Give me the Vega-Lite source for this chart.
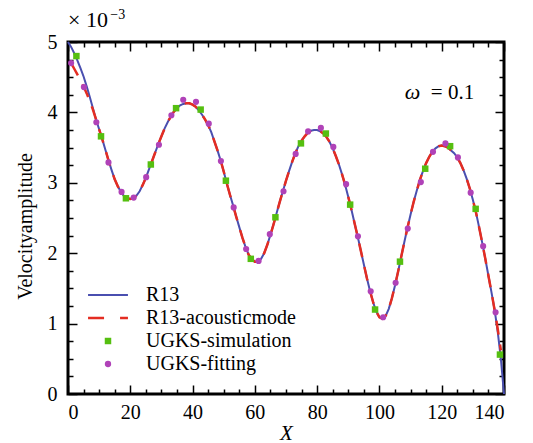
{
  "$schema": "https://vega.github.io/schema/vega-lite/v6.json",
  "width": 436,
  "height": 352,
  "autosize": {"type": "none"},
  "padding": {"left": 68, "top": 42, "right": 29, "bottom": 49},
  "background": "white",
  "config": {
    "view": {"stroke": "black", "strokeWidth": 3},
    "font": "Liberation Serif, Times New Roman, serif",
    "axis": {"grid": false, "domain": false, "tickColor": "black", "tickWidth": 1.5, "labelColor": "black", "labelFont": "Liberation Serif, Times New Roman, serif", "labelFontSize": 20, "titleFont": "Liberation Serif, Times New Roman, serif", "titleColor": "black", "titleFontWeight": "normal"},
    "legend": {"symbolSize": 49, "padding": 0}
  },
  "data": {"values": [
    {"series":"R13","x":0,"y":5.00},{"series":"R13","x":1,"y":4.93},{"series":"R13","x":2,"y":4.84},{"series":"R13","x":3,"y":4.74},{"series":"R13","x":4,"y":4.63},{"series":"R13","x":5,"y":4.51},{"series":"R13","x":6,"y":4.37},{"series":"R13","x":7,"y":4.22},{"series":"R13","x":8,"y":4.06},{"series":"R13","x":9,"y":3.90},
    {"series":"R13","x":10,"y":3.76},{"series":"R13","x":11,"y":3.62},{"series":"R13","x":12,"y":3.47},{"series":"R13","x":13,"y":3.32},{"series":"R13","x":14,"y":3.18},{"series":"R13","x":15,"y":3.05},{"series":"R13","x":16,"y":2.95},{"series":"R13","x":17,"y":2.87},{"series":"R13","x":18,"y":2.81},{"series":"R13","x":19,"y":2.78},
    {"series":"R13","x":20,"y":2.77},{"series":"R13","x":21,"y":2.78},{"series":"R13","x":22,"y":2.82},{"series":"R13","x":23,"y":2.88},{"series":"R13","x":24,"y":2.97},{"series":"R13","x":25,"y":3.07},{"series":"R13","x":26,"y":3.19},{"series":"R13","x":27,"y":3.31},{"series":"R13","x":28,"y":3.43},{"series":"R13","x":29,"y":3.55},
    {"series":"R13","x":30,"y":3.66},{"series":"R13","x":31,"y":3.77},{"series":"R13","x":32,"y":3.86},{"series":"R13","x":33,"y":3.94},{"series":"R13","x":34,"y":4.01},{"series":"R13","x":35,"y":4.06},{"series":"R13","x":36,"y":4.10},{"series":"R13","x":37,"y":4.12},{"series":"R13","x":38,"y":4.13},{"series":"R13","x":39,"y":4.13},
    {"series":"R13","x":40,"y":4.11},{"series":"R13","x":41,"y":4.08},{"series":"R13","x":42,"y":4.03},{"series":"R13","x":43,"y":3.97},{"series":"R13","x":44,"y":3.90},{"series":"R13","x":45,"y":3.82},{"series":"R13","x":46,"y":3.72},{"series":"R13","x":47,"y":3.59},{"series":"R13","x":48,"y":3.46},{"series":"R13","x":49,"y":3.32},
    {"series":"R13","x":50,"y":3.16},{"series":"R13","x":51,"y":2.99},{"series":"R13","x":52,"y":2.83},{"series":"R13","x":53,"y":2.68},{"series":"R13","x":54,"y":2.52},{"series":"R13","x":55,"y":2.37},{"series":"R13","x":56,"y":2.22},{"series":"R13","x":57,"y":2.09},{"series":"R13","x":58,"y":1.98},{"series":"R13","x":59,"y":1.91},
    {"series":"R13","x":60,"y":1.88},{"series":"R13","x":61,"y":1.88},{"series":"R13","x":62,"y":1.92},{"series":"R13","x":63,"y":2.00},{"series":"R13","x":64,"y":2.12},{"series":"R13","x":65,"y":2.26},{"series":"R13","x":66,"y":2.41},{"series":"R13","x":67,"y":2.57},{"series":"R13","x":68,"y":2.73},{"series":"R13","x":69,"y":2.88},
    {"series":"R13","x":70,"y":3.03},{"series":"R13","x":71,"y":3.17},{"series":"R13","x":72,"y":3.30},{"series":"R13","x":73,"y":3.42},{"series":"R13","x":74,"y":3.52},{"series":"R13","x":75,"y":3.60},{"series":"R13","x":76,"y":3.66},{"series":"R13","x":77,"y":3.71},{"series":"R13","x":78,"y":3.74},{"series":"R13","x":79,"y":3.75},
    {"series":"R13","x":80,"y":3.75},{"series":"R13","x":81,"y":3.73},{"series":"R13","x":82,"y":3.70},{"series":"R13","x":83,"y":3.65},{"series":"R13","x":84,"y":3.58},{"series":"R13","x":85,"y":3.49},{"series":"R13","x":86,"y":3.38},{"series":"R13","x":87,"y":3.26},{"series":"R13","x":88,"y":3.12},{"series":"R13","x":89,"y":2.97},
    {"series":"R13","x":90,"y":2.80},{"series":"R13","x":91,"y":2.62},{"series":"R13","x":92,"y":2.43},{"series":"R13","x":93,"y":2.24},{"series":"R13","x":94,"y":2.04},{"series":"R13","x":95,"y":1.84},{"series":"R13","x":96,"y":1.64},{"series":"R13","x":97,"y":1.46},{"series":"R13","x":98,"y":1.30},{"series":"R13","x":99,"y":1.17},
    {"series":"R13","x":100,"y":1.09},{"series":"R13","x":101,"y":1.07},{"series":"R13","x":102,"y":1.11},{"series":"R13","x":103,"y":1.21},{"series":"R13","x":104,"y":1.36},{"series":"R13","x":105,"y":1.54},{"series":"R13","x":106,"y":1.74},{"series":"R13","x":107,"y":1.95},{"series":"R13","x":108,"y":2.16},{"series":"R13","x":109,"y":2.36},
    {"series":"R13","x":110,"y":2.55},{"series":"R13","x":111,"y":2.73},{"series":"R13","x":112,"y":2.89},{"series":"R13","x":113,"y":3.04},{"series":"R13","x":114,"y":3.17},{"series":"R13","x":115,"y":3.28},{"series":"R13","x":116,"y":3.37},{"series":"R13","x":117,"y":3.44},{"series":"R13","x":118,"y":3.49},{"series":"R13","x":119,"y":3.52},
    {"series":"R13","x":120,"y":3.53},{"series":"R13","x":121,"y":3.52},{"series":"R13","x":122,"y":3.50},{"series":"R13","x":123,"y":3.46},{"series":"R13","x":124,"y":3.42},{"series":"R13","x":125,"y":3.36},{"series":"R13","x":126,"y":3.28},{"series":"R13","x":127,"y":3.18},{"series":"R13","x":128,"y":3.06},{"series":"R13","x":129,"y":2.92},
    {"series":"R13","x":130,"y":2.76},{"series":"R13","x":131,"y":2.58},{"series":"R13","x":132,"y":2.37},{"series":"R13","x":133,"y":2.15},{"series":"R13","x":134,"y":1.92},{"series":"R13","x":135,"y":1.68},{"series":"R13","x":136,"y":1.44},{"series":"R13","x":137,"y":1.19},{"series":"R13","x":138,"y":0.88},{"series":"R13","x":139,"y":0.50},{"series":"R13","x":140,"y":0.00},

    {"series":"R13-acousticmode","x":1,"y":4.70},{"series":"R13-acousticmode","x":2,"y":4.62},{"series":"R13-acousticmode","x":3,"y":4.54},{"series":"R13-acousticmode","x":4,"y":4.46},{"series":"R13-acousticmode","x":5,"y":4.37},{"series":"R13-acousticmode","x":6,"y":4.27},{"series":"R13-acousticmode","x":7,"y":4.16},{"series":"R13-acousticmode","x":8,"y":4.04},{"series":"R13-acousticmode","x":9,"y":3.90},
    {"series":"R13-acousticmode","x":10,"y":3.76},{"series":"R13-acousticmode","x":11,"y":3.62},{"series":"R13-acousticmode","x":12,"y":3.47},{"series":"R13-acousticmode","x":13,"y":3.32},{"series":"R13-acousticmode","x":14,"y":3.18},{"series":"R13-acousticmode","x":15,"y":3.05},{"series":"R13-acousticmode","x":16,"y":2.95},{"series":"R13-acousticmode","x":17,"y":2.87},{"series":"R13-acousticmode","x":18,"y":2.81},{"series":"R13-acousticmode","x":19,"y":2.78},
    {"series":"R13-acousticmode","x":20,"y":2.77},{"series":"R13-acousticmode","x":21,"y":2.78},{"series":"R13-acousticmode","x":22,"y":2.82},{"series":"R13-acousticmode","x":23,"y":2.88},{"series":"R13-acousticmode","x":24,"y":2.97},{"series":"R13-acousticmode","x":25,"y":3.07},{"series":"R13-acousticmode","x":26,"y":3.19},{"series":"R13-acousticmode","x":27,"y":3.31},{"series":"R13-acousticmode","x":28,"y":3.43},{"series":"R13-acousticmode","x":29,"y":3.55},
    {"series":"R13-acousticmode","x":30,"y":3.66},{"series":"R13-acousticmode","x":31,"y":3.77},{"series":"R13-acousticmode","x":32,"y":3.86},{"series":"R13-acousticmode","x":33,"y":3.94},{"series":"R13-acousticmode","x":34,"y":4.01},{"series":"R13-acousticmode","x":35,"y":4.06},{"series":"R13-acousticmode","x":36,"y":4.10},{"series":"R13-acousticmode","x":37,"y":4.12},{"series":"R13-acousticmode","x":38,"y":4.13},{"series":"R13-acousticmode","x":39,"y":4.13},
    {"series":"R13-acousticmode","x":40,"y":4.11},{"series":"R13-acousticmode","x":41,"y":4.08},{"series":"R13-acousticmode","x":42,"y":4.03},{"series":"R13-acousticmode","x":43,"y":3.97},{"series":"R13-acousticmode","x":44,"y":3.90},{"series":"R13-acousticmode","x":45,"y":3.82},{"series":"R13-acousticmode","x":46,"y":3.72},{"series":"R13-acousticmode","x":47,"y":3.59},{"series":"R13-acousticmode","x":48,"y":3.46},{"series":"R13-acousticmode","x":49,"y":3.32},
    {"series":"R13-acousticmode","x":50,"y":3.16},{"series":"R13-acousticmode","x":51,"y":2.99},{"series":"R13-acousticmode","x":52,"y":2.83},{"series":"R13-acousticmode","x":53,"y":2.68},{"series":"R13-acousticmode","x":54,"y":2.52},{"series":"R13-acousticmode","x":55,"y":2.37},{"series":"R13-acousticmode","x":56,"y":2.22},{"series":"R13-acousticmode","x":57,"y":2.09},{"series":"R13-acousticmode","x":58,"y":1.98},{"series":"R13-acousticmode","x":59,"y":1.91},
    {"series":"R13-acousticmode","x":60,"y":1.88},{"series":"R13-acousticmode","x":61,"y":1.88},{"series":"R13-acousticmode","x":62,"y":1.92},{"series":"R13-acousticmode","x":63,"y":2.00},{"series":"R13-acousticmode","x":64,"y":2.12},{"series":"R13-acousticmode","x":65,"y":2.26},{"series":"R13-acousticmode","x":66,"y":2.41},{"series":"R13-acousticmode","x":67,"y":2.57},{"series":"R13-acousticmode","x":68,"y":2.73},{"series":"R13-acousticmode","x":69,"y":2.88},
    {"series":"R13-acousticmode","x":70,"y":3.03},{"series":"R13-acousticmode","x":71,"y":3.17},{"series":"R13-acousticmode","x":72,"y":3.30},{"series":"R13-acousticmode","x":73,"y":3.42},{"series":"R13-acousticmode","x":74,"y":3.52},{"series":"R13-acousticmode","x":75,"y":3.60},{"series":"R13-acousticmode","x":76,"y":3.66},{"series":"R13-acousticmode","x":77,"y":3.71},{"series":"R13-acousticmode","x":78,"y":3.74},{"series":"R13-acousticmode","x":79,"y":3.75},
    {"series":"R13-acousticmode","x":80,"y":3.75},{"series":"R13-acousticmode","x":81,"y":3.73},{"series":"R13-acousticmode","x":82,"y":3.70},{"series":"R13-acousticmode","x":83,"y":3.65},{"series":"R13-acousticmode","x":84,"y":3.58},{"series":"R13-acousticmode","x":85,"y":3.49},{"series":"R13-acousticmode","x":86,"y":3.38},{"series":"R13-acousticmode","x":87,"y":3.26},{"series":"R13-acousticmode","x":88,"y":3.12},{"series":"R13-acousticmode","x":89,"y":2.97},
    {"series":"R13-acousticmode","x":90,"y":2.80},{"series":"R13-acousticmode","x":91,"y":2.62},{"series":"R13-acousticmode","x":92,"y":2.43},{"series":"R13-acousticmode","x":93,"y":2.24},{"series":"R13-acousticmode","x":94,"y":2.04},{"series":"R13-acousticmode","x":95,"y":1.84},{"series":"R13-acousticmode","x":96,"y":1.64},{"series":"R13-acousticmode","x":97,"y":1.46},{"series":"R13-acousticmode","x":98,"y":1.30},{"series":"R13-acousticmode","x":99,"y":1.17},
    {"series":"R13-acousticmode","x":100,"y":1.09},{"series":"R13-acousticmode","x":101,"y":1.07},{"series":"R13-acousticmode","x":102,"y":1.11},{"series":"R13-acousticmode","x":103,"y":1.21},{"series":"R13-acousticmode","x":104,"y":1.36},{"series":"R13-acousticmode","x":105,"y":1.54},{"series":"R13-acousticmode","x":106,"y":1.74},{"series":"R13-acousticmode","x":107,"y":1.95},{"series":"R13-acousticmode","x":108,"y":2.16},{"series":"R13-acousticmode","x":109,"y":2.36},
    {"series":"R13-acousticmode","x":110,"y":2.55},{"series":"R13-acousticmode","x":111,"y":2.73},{"series":"R13-acousticmode","x":112,"y":2.89},{"series":"R13-acousticmode","x":113,"y":3.04},{"series":"R13-acousticmode","x":114,"y":3.17},{"series":"R13-acousticmode","x":115,"y":3.28},{"series":"R13-acousticmode","x":116,"y":3.37},{"series":"R13-acousticmode","x":117,"y":3.44},{"series":"R13-acousticmode","x":118,"y":3.49},{"series":"R13-acousticmode","x":119,"y":3.52},
    {"series":"R13-acousticmode","x":120,"y":3.53},{"series":"R13-acousticmode","x":121,"y":3.52},{"series":"R13-acousticmode","x":122,"y":3.50},{"series":"R13-acousticmode","x":123,"y":3.46},{"series":"R13-acousticmode","x":124,"y":3.42},{"series":"R13-acousticmode","x":125,"y":3.36},{"series":"R13-acousticmode","x":126,"y":3.28},{"series":"R13-acousticmode","x":127,"y":3.18},{"series":"R13-acousticmode","x":128,"y":3.06},{"series":"R13-acousticmode","x":129,"y":2.92},
    {"series":"R13-acousticmode","x":130,"y":2.76},{"series":"R13-acousticmode","x":131,"y":2.58},{"series":"R13-acousticmode","x":132,"y":2.37},{"series":"R13-acousticmode","x":133,"y":2.15},{"series":"R13-acousticmode","x":134,"y":1.92},{"series":"R13-acousticmode","x":135,"y":1.68},{"series":"R13-acousticmode","x":136,"y":1.44},{"series":"R13-acousticmode","x":137,"y":1.19},{"series":"R13-acousticmode","x":138,"y":0.92},{"series":"R13-acousticmode","x":139,"y":0.62},

    {"series":"UGKS-simulation","x":2.7,"y":4.80},{"series":"UGKS-simulation","x":10.6,"y":3.66},{"series":"UGKS-simulation","x":18.6,"y":2.78},{"series":"UGKS-simulation","x":26.6,"y":3.26},{"series":"UGKS-simulation","x":34.7,"y":4.06},{"series":"UGKS-simulation","x":42.6,"y":4.04},{"series":"UGKS-simulation","x":50.7,"y":3.03},{"series":"UGKS-simulation","x":58.7,"y":1.92},{"series":"UGKS-simulation","x":66.6,"y":2.51},
    {"series":"UGKS-simulation","x":74.8,"y":3.56},{"series":"UGKS-simulation","x":82.8,"y":3.70},{"series":"UGKS-simulation","x":90.6,"y":2.69},{"series":"UGKS-simulation","x":98.6,"y":1.20},{"series":"UGKS-simulation","x":106.6,"y":1.88},{"series":"UGKS-simulation","x":114.7,"y":3.20},{"series":"UGKS-simulation","x":122.7,"y":3.52},{"series":"UGKS-simulation","x":130.9,"y":2.63},{"series":"UGKS-simulation","x":138.7,"y":0.56},

    {"series":"UGKS-fitting","x":1.0,"y":4.70},{"series":"UGKS-fitting","x":5.1,"y":4.36},{"series":"UGKS-fitting","x":9.1,"y":3.86},{"series":"UGKS-fitting","x":13.0,"y":3.29},{"series":"UGKS-fitting","x":17.2,"y":2.87},{"series":"UGKS-fitting","x":21.1,"y":2.79},{"series":"UGKS-fitting","x":25.1,"y":3.08},{"series":"UGKS-fitting","x":29.2,"y":3.54},{"series":"UGKS-fitting","x":33.2,"y":3.96},{"series":"UGKS-fitting","x":37.0,"y":4.18},
    {"series":"UGKS-fitting","x":41.1,"y":4.15},{"series":"UGKS-fitting","x":45.2,"y":3.84},{"series":"UGKS-fitting","x":49.1,"y":3.31},{"series":"UGKS-fitting","x":53.2,"y":2.65},{"series":"UGKS-fitting","x":57.2,"y":2.06},{"series":"UGKS-fitting","x":61.2,"y":1.89},{"series":"UGKS-fitting","x":64.8,"y":2.27},{"series":"UGKS-fitting","x":69.2,"y":2.88},{"series":"UGKS-fitting","x":73.1,"y":3.41},{"series":"UGKS-fitting","x":77.1,"y":3.73},
    {"series":"UGKS-fitting","x":81.2,"y":3.78},{"series":"UGKS-fitting","x":85.2,"y":3.51},{"series":"UGKS-fitting","x":89.3,"y":2.98},{"series":"UGKS-fitting","x":93.1,"y":2.24},{"series":"UGKS-fitting","x":97.2,"y":1.46},{"series":"UGKS-fitting","x":101.2,"y":1.09},{"series":"UGKS-fitting","x":105.2,"y":1.58},{"series":"UGKS-fitting","x":109.1,"y":2.35},{"series":"UGKS-fitting","x":113.3,"y":3.01},{"series":"UGKS-fitting","x":117.2,"y":3.44},
    {"series":"UGKS-fitting","x":121.2,"y":3.56},{"series":"UGKS-fitting","x":125.2,"y":3.36},{"series":"UGKS-fitting","x":129.3,"y":2.86},{"series":"UGKS-fitting","x":133.3,"y":2.10},{"series":"UGKS-fitting","x":137.3,"y":1.16}
  ]},
  "resolve": {"axis": {"x": "independent", "y": "independent"}},
  "layer": [
    {
      "transform": [{"filter": "datum.series === 'R13'"}],
      "mark": {"type": "line", "strokeWidth": 2},
      "encoding": {
        "x": {"field": "x", "type": "quantitative", "scale": {"domain": [0, 140], "nice": false, "zero": false},
          "axis": {"orient": "bottom", "values": [0, 20, 40, 60, 80, 100, 120, 140], "tickSize": -9, "labelPadding": 17, "title": "X", "titleFontStyle": "italic", "titleFontSize": 21, "titlePadding": 0}},
        "y": {"field": "y", "type": "quantitative", "scale": {"domain": [0, 5], "nice": false, "zero": false},
          "axis": {"orient": "left", "values": [0, 1, 2, 3, 4, 5], "tickSize": -9, "labelPadding": 20, "title": "Velocityamplitude", "titleFontSize": 20, "titlePadding": 12, "titleY": 184}},
        "color": {"field": "series", "type": "nominal",
          "scale": {"domain": ["R13", "R13-acousticmode", "UGKS-simulation", "UGKS-fitting"], "range": ["#4a4fb0", "#e42d22", "#55bf10", "#b042b8"]},
          "legend": {"title": null, "orient": "none", "legendX": 30, "legendY": 243, "labelFont": "Liberation Serif, Times New Roman, serif", "labelFontSize": 20, "labelColor": "black", "labelOffset": 28, "rowPadding": 3,
            "encode": {"symbols": {"update": {
              "shape": {"signal": "datum.value === 'UGKS-simulation' ? 'square' : datum.value === 'UGKS-fitting' ? 'circle' : 'M-5.7,0H5.7'"},
              "size": {"signal": "datum.value === 'UGKS-simulation' ? 42 : datum.value === 'UGKS-fitting' ? 40 : 49"},
              "fill": {"scale": "color", "field": "value"},
              "stroke": {"scale": "color", "field": "value"},
              "strokeWidth": {"signal": "datum.value === 'R13' ? 2 : datum.value === 'R13-acousticmode' ? 2.5 : 0"},
              "strokeDash": {"signal": "datum.value === 'R13-acousticmode' ? [16, 16] : [1, 0]"},
              "opacity": {"value": 1}
            }}}}
        }
      }
    },
    {
      "transform": [{"filter": "datum.series === 'R13-acousticmode'"}],
      "mark": {"type": "line", "strokeWidth": 2.5, "strokeDash": [14, 10]},
      "encoding": {
        "x": {"field": "x", "type": "quantitative", "axis": {"orient": "bottom", "values": [5, 10, 15, 25, 30, 35, 45, 50, 55, 65, 70, 75, 85, 90, 95, 105, 110, 115, 125, 130, 135], "tickSize": -5, "labels": false, "title": null}},
        "y": {"field": "y", "type": "quantitative", "axis": {"orient": "left", "values": [0.25, 0.5, 0.75, 1.25, 1.5, 1.75, 2.25, 2.5, 2.75, 3.25, 3.5, 3.75, 4.25, 4.5, 4.75], "tickSize": -5, "labels": false, "title": null}},
        "color": {"field": "series", "type": "nominal"}
      }
    },
    {
      "transform": [{"filter": "datum.series === 'UGKS-simulation'"}],
      "mark": {"type": "point", "shape": "square", "filled": true, "size": 42, "opacity": 1},
      "encoding": {
        "x": {"field": "x", "type": "quantitative", "axis": {"orient": "top", "values": [0, 20, 40, 60, 80, 100, 120, 140], "tickSize": -9, "labels": false, "title": null}},
        "y": {"field": "y", "type": "quantitative", "axis": {"orient": "right", "values": [0, 1, 2, 3, 4, 5], "tickSize": -9, "labels": false, "title": null}},
        "color": {"field": "series", "type": "nominal"}
      }
    },
    {
      "transform": [{"filter": "datum.series === 'UGKS-fitting'"}],
      "mark": {"type": "point", "shape": "circle", "filled": true, "size": 38, "opacity": 1},
      "encoding": {
        "x": {"field": "x", "type": "quantitative", "axis": {"orient": "top", "values": [5, 10, 15, 25, 30, 35, 45, 50, 55, 65, 70, 75, 85, 90, 95, 105, 110, 115, 125, 130, 135], "tickSize": -5, "labels": false, "title": null}},
        "y": {"field": "y", "type": "quantitative", "axis": {"orient": "right", "values": [0.25, 0.5, 0.75, 1.25, 1.5, 1.75, 2.25, 2.5, 2.75, 3.25, 3.5, 3.75, 4.25, 4.5, 4.75], "tickSize": -5, "labels": false, "title": null}},
        "color": {"field": "series", "type": "nominal"}
      }
    },
    {
      "data": {"values": [{"x": 110.6, "y": 4.19, "label": "ω"}]},
      "mark": {"type": "text", "font": "Liberation Serif, Times New Roman, serif", "fontStyle": "italic", "fontSize": 22, "align": "center", "baseline": "alphabetic", "color": "black"},
      "encoding": {
        "x": {"field": "x", "type": "quantitative", "axis": null},
        "y": {"field": "y", "type": "quantitative", "axis": null},
        "text": {"field": "label"}
      }
    },
    {
      "data": {"values": [{"x": 116.5, "y": 4.19, "label": "= 0.1"}]},
      "mark": {"type": "text", "font": "Liberation Serif, Times New Roman, serif", "fontSize": 21, "align": "left", "baseline": "alphabetic", "color": "black"},
      "encoding": {
        "x": {"field": "x", "type": "quantitative", "axis": null},
        "y": {"field": "y", "type": "quantitative", "axis": null},
        "text": {"field": "label"}
      }
    },
    {
      "data": {"values": [{"x": 0, "y": 5.21, "label": "× 10"}]},
      "mark": {"type": "text", "font": "Liberation Serif, Times New Roman, serif", "fontSize": 22, "align": "left", "baseline": "alphabetic", "color": "black"},
      "encoding": {
        "x": {"field": "x", "type": "quantitative", "axis": null},
        "y": {"field": "y", "type": "quantitative", "axis": null},
        "text": {"field": "label"}
      }
    },
    {
      "data": {"values": [{"x": 13.6, "y": 5.33, "label": "−3"}]},
      "mark": {"type": "text", "font": "Liberation Serif, Times New Roman, serif", "fontSize": 14, "align": "left", "baseline": "alphabetic", "color": "black"},
      "encoding": {
        "x": {"field": "x", "type": "quantitative", "axis": null},
        "y": {"field": "y", "type": "quantitative", "axis": null},
        "text": {"field": "label"}
      }
    }
  ]
}
